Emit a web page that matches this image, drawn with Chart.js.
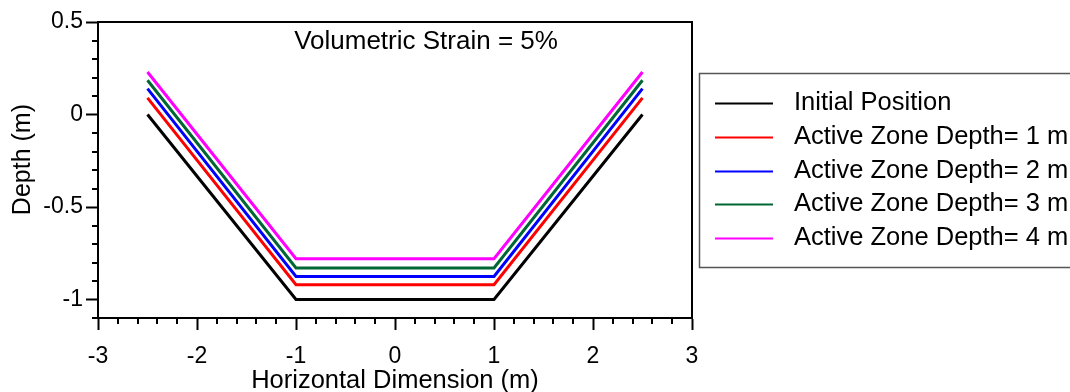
<!DOCTYPE html>
<html>
<head>
<meta charset="utf-8">
<script src="https://cdn.jsdelivr.net/npm/chart.js@4.4.1/dist/chart.umd.min.js"></script>
<style>
  html, body { margin: 0; padding: 0; background: #fff; }
  #wrap { width: 1070px; height: 392px; overflow: hidden; }
</style>
</head>
<body>
<div id="wrap"><canvas id="myChart" width="1070" height="392"></canvas></div>
<script>
// profile of the surface, x in metres
const xPoints = [-2.5, -1, 1, 2.5];
const initialPosition = [0, -1, -1, 0];
const activeZone1 = [0.09, -0.92, -0.92, 0.09];
const activeZone2 = [0.14, -0.875, -0.875, 0.14];
const activeZone3 = [0.185, -0.83, -0.83, 0.185];
const activeZone4 = [0.23, -0.78, -0.78, 0.23];

const seriesLabels = [
  'Initial Position',
  'Active Zone Depth= 1 m',
  'Active Zone Depth= 2 m',
  'Active Zone Depth= 3 m',
  'Active Zone Depth= 4 m',
];
const seriesColors = ['#000000', '#ff0000', '#0000ff', '#006633', '#ff00ff'];
const seriesValues = [initialPosition, activeZone1, activeZone2, activeZone3, activeZone4];

const xTicks = [-3, -2, -1, 0, 1, 2, 3];
const yTicks = [-1, -0.5, 0, 0.5];
const chartTitle = 'Volumetric Strain = 5%';

const FONT = "'Liberation Sans', Arial, sans-serif";

const toPoints = (ys) => xPoints.map((x, i) => ({x: x, y: ys[i]}));

// frame, minor ticks, title and boxed legend
const extras = {
  id: 'extras',
  afterDraw(chart) {
    const ctx = chart.ctx;
    const a = chart.chartArea;
    const xs = chart.scales.x, ys = chart.scales.y;
    ctx.save();
    ctx.strokeStyle = '#000';
    ctx.lineWidth = 2;
    ctx.beginPath();
    ctx.moveTo(a.left, a.top);
    ctx.lineTo(a.right, a.top);
    ctx.lineTo(a.right, a.bottom);
    ctx.stroke();

    // minor ticks
    ctx.beginPath();
    for (let i = -15; i <= 15; i++) {
      const v = i / 5;
      if (Number.isInteger(v)) continue;
      const px = Math.round(xs.getPixelForValue(v));
      ctx.moveTo(px, a.bottom);
      ctx.lineTo(px, a.bottom + 6);
    }
    for (let i = -11; i <= 5; i++) {
      if (i % 5 === 0) continue;
      const py = Math.round(ys.getPixelForValue(i / 10));
      ctx.moveTo(a.left, py);
      ctx.lineTo(a.left - 6, py);
    }
    ctx.stroke();

    ctx.fillStyle = '#000';
    ctx.font = '26px ' + FONT;
    ctx.textAlign = 'center';
    ctx.textBaseline = 'middle';
    ctx.fillText(chartTitle, 426, 42);

    // legend
    ctx.strokeStyle = '#555';
    ctx.lineWidth = 1.5;
    ctx.strokeRect(699.5, 73.5, 400, 194);
    ctx.font = '25.5px ' + FONT;
    ctx.textAlign = 'left';
    chart.data.datasets.forEach((ds, i) => {
      const y = 103 + i * 33.8;
      ctx.strokeStyle = ds.borderColor;
      ctx.lineWidth = 2;
      ctx.beginPath();
      ctx.moveTo(715, Math.round(y) + 0.5);
      ctx.lineTo(773, Math.round(y) + 0.5);
      ctx.stroke();
      ctx.fillStyle = '#000';
      ctx.fillText(ds.label, 794, y);
    });
    ctx.restore();
  }
};

const data = {
  datasets: seriesLabels.map((label, i) => ({
    label: label,
    data: toPoints(seriesValues[i]),
    borderColor: seriesColors[i],
    backgroundColor: seriesColors[i],
    borderWidth: 3,
    pointRadius: 0,
    tension: 0,
    showLine: true,
  }))
};

const config = {
  type: 'scatter',
  data,
  options: {
    responsive: false,
    animation: false,
    layout: { padding: { top: 22, right: 378, left: 0, bottom: 0 } },
    plugins: {
      legend: { display: false },
      tooltip: { enabled: false },
    },
    scales: {
      x: {
        type: 'linear',
        min: -3,
        max: 3,
        afterBuildTicks: (s) => { s.ticks = xTicks.map(v => ({value: v})); },
        afterFit: (s) => { s.height = 74; },
        grid: { drawOnChartArea: false, tickLength: 12, tickWidth: 2, tickColor: '#000' },
        border: { color: '#000', width: 2 },
        ticks: {
          color: '#000',
          padding: 13,
          font: { family: FONT, size: 23 },
          maxRotation: 0,
          callback: (v) => String(v),
        },
        title: {
          display: true,
          text: 'Horizontal Dimension (m)',
          color: '#000',
          font: { family: FONT, size: 25.5 },
          padding: { top: 0, bottom: -4 },
        },
      },
      y: {
        type: 'linear',
        min: -1.1,
        max: 0.5,
        afterBuildTicks: (s) => { s.ticks = yTicks.map(v => ({value: v})); },
        afterFit: (s) => { s.width = 98; },
        grid: { drawOnChartArea: false, tickLength: 12, tickWidth: 2, tickColor: '#000' },
        border: { color: '#000', width: 2 },
        ticks: {
          color: '#000',
          padding: 3,
          font: { family: FONT, size: 23 },
          callback: (v) => String(v),
        },
        title: {
          display: true,
          text: '   Depth (m)',
          color: '#000',
          font: { family: FONT, size: 25 },
          padding: { top: 8, bottom: 0 },
        },
      },
    },
  },
  plugins: [extras],
};

const myChart = new Chart(document.getElementById('myChart'), config);
</script>
</body>
</html>
